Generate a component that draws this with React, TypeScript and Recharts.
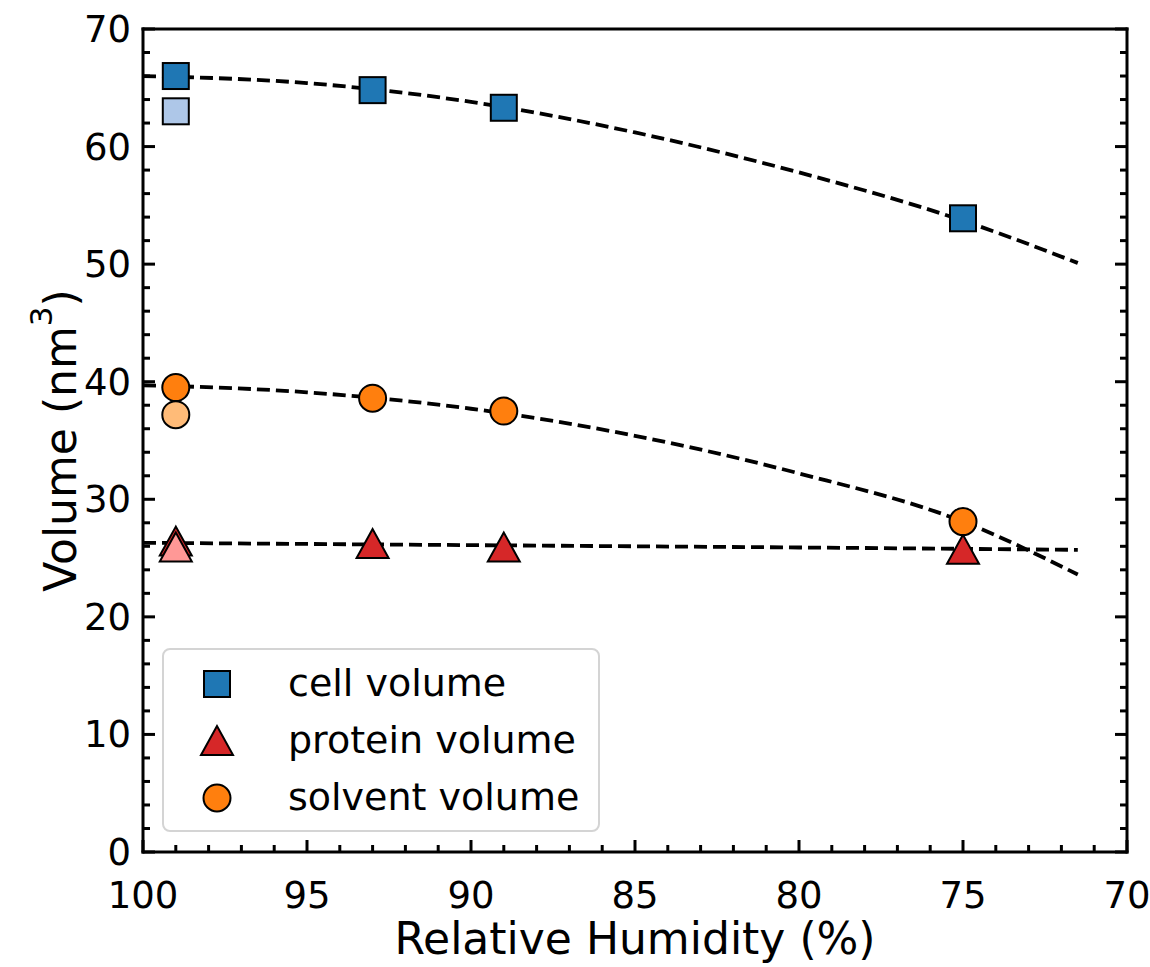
import React from "react";
import { ComposedChart, Line, Scatter, XAxis, YAxis, Legend, Label } from "recharts";

document.body.style.margin = "0";

const FONT = "'DejaVu Sans', sans-serif";

// measured points (relative humidity %, volume nm^3)
const cellPoints = [
  { rh: 99, v: 66.0 },
  { rh: 93, v: 64.8 },
  { rh: 89, v: 63.3 },
  { rh: 75, v: 53.9 },
];
const cellExtra = [{ rh: 99, v: 63.0 }];

const proteinPoints = [
  { rh: 99, v: 26.4 },
  { rh: 93, v: 26.2 },
  { rh: 89, v: 25.9 },
  { rh: 75, v: 25.7 },
];
const proteinExtra = [{ rh: 99, v: 25.9 }];

const solventPoints = [
  { rh: 99, v: 39.5 },
  { rh: 93, v: 38.6 },
  { rh: 89, v: 37.5 },
  { rh: 75, v: 28.1 },
];
const solventExtra = [{ rh: 99, v: 37.2 }];

// dashed fits at a few humidities
const cellFit = [
  { rh: 100, v: 66.0 },
  { rh: 95, v: 65.4 },
  { rh: 90, v: 63.8 },
  { rh: 85, v: 61.2 },
  { rh: 80, v: 57.8 },
  { rh: 75, v: 53.7 },
  { rh: 71.5, v: 50.1 },
];
const solventFit = [
  { rh: 100, v: 39.7 },
  { rh: 95, v: 39.1 },
  { rh: 90, v: 37.7 },
  { rh: 85, v: 35.4 },
  { rh: 80, v: 32.2 },
  { rh: 75, v: 28.1 },
  { rh: 71.5, v: 23.6 },
];
const proteinFit = [
  { rh: 100, v: 26.3 },
  { rh: 90, v: 26.1 },
  { rh: 80, v: 25.9 },
  { rh: 71.5, v: 25.7 },
];

// ticks: every 1 % on x (labels every 5), every 2 on y (labels every 10)
const xTicks = [70, 71, 72, 73, 74, 75, 76, 77, 78, 79, 80, 81, 82, 83, 84, 85, 86, 87, 88, 89, 90, 91, 92, 93, 94, 95, 96, 97, 98, 99, 100];
const yTicks = [0, 2, 4, 6, 8, 10, 12, 14, 16, 18, 20, 22, 24, 26, 28, 30, 32, 34, 36, 38, 40, 42, 44, 46, 48, 50, 52, 54, 56, 58, 60, 62, 64, 66, 68, 70];

const legendItems = [
  { name: "cell volume", marker: "square", color: "#1f77b4" },
  { name: "protein volume", marker: "triangle", color: "#d62728" },
  { name: "solvent volume", marker: "circle", color: "#ff7f0e" },
];

const MAJOR = 12;
const MINOR = 7;
const TICK_FONT = 37;

function BottomTick(props: any) {
  const { x, y, payload } = props;
  const major = payload.value % 5 === 0;
  return (
    <g>
      <line x1={x} x2={x} y1={y} y2={y - (major ? MAJOR : MINOR)} stroke="#000" strokeWidth={3} />
      {major && (
        <text x={x} y={y + 56} textAnchor="middle" fontSize={TICK_FONT} fontFamily={FONT} fill="#000">
          {payload.value}
        </text>
      )}
    </g>
  );
}

function TopTick(props: any) {
  const { x, y, payload } = props;
  const major = payload.value % 5 === 0;
  return <line x1={x} x2={x} y1={y} y2={y + (major ? MAJOR : MINOR)} stroke="#000" strokeWidth={3} />;
}

function LeftTick(props: any) {
  const { x, y, payload } = props;
  const major = payload.value % 10 === 0;
  return (
    <g>
      <line x1={x} x2={x + (major ? MAJOR : MINOR)} y1={y} y2={y} stroke="#000" strokeWidth={3} />
      {major && (
        <text x={x - 12} y={y + 13} textAnchor="end" fontSize={TICK_FONT} fontFamily={FONT} fill="#000">
          {payload.value}
        </text>
      )}
    </g>
  );
}

function RightTick(props: any) {
  const { x, y, payload } = props;
  const major = payload.value % 10 === 0;
  return <line x1={x} x2={x - (major ? MAJOR : MINOR)} y1={y} y2={y} stroke="#000" strokeWidth={3} />;
}

function marker(kind: string, fill: string, cx: number, cy: number) {
  if (kind === "square") {
    return <rect x={cx - 13} y={cy - 13} width={26} height={26} fill={fill} stroke="#000" strokeWidth={2} />;
  }
  if (kind === "triangle") {
    return (
      <polygon
        points={`${cx},${cy - 15} ${cx - 16},${cy + 14} ${cx + 16},${cy + 14}`}
        fill={fill}
        stroke="#000"
        strokeWidth={2}
        strokeLinejoin="miter"
      />
    );
  }
  return <circle cx={cx} cy={cy} r={13.5} fill={fill} stroke="#000" strokeWidth={2} />;
}

const shape = (kind: string, fill: string) => (p: any) => marker(kind, fill, p.cx, p.cy);

function YTitle(props: any) {
  const vb = props.viewBox || { x: 142, y: 29, width: 1, height: 823 };
  const cy = vb.y + vb.height / 2;
  return (
    <text
      transform={`translate(76, ${cy}) rotate(-90)`}
      textAnchor="middle"
      fontSize={44}
      fontFamily={FONT}
      fill="#000"
    >
      Volume (nm
      <tspan dy={-24} fontSize={31}>
        3
      </tspan>
      <tspan dy={24}>)</tspan>
    </text>
  );
}

function LegendBox() {
  return (
    <div
      style={{
        position: "relative",
        width: 438,
        height: 184,
        boxSizing: "border-box",
        border: "2px solid #d4d4d4",
        borderRadius: 8,
        background: "rgba(255,255,255,0.8)",
        fontFamily: FONT,
        fontSize: 38,
        color: "#000",
      }}
    >
      {legendItems.map((item, i) => (
        <div key={item.name} style={{ position: "absolute", left: 0, top: 8 + i * 57, height: 57, width: "100%" }}>
          <svg width={40} height={40} style={{ position: "absolute", left: 33, top: 6 }}>
            {marker(item.marker, item.color, 20, 20)}
          </svg>
          <span style={{ position: "absolute", left: 124, top: 0, lineHeight: "50px", whiteSpace: "nowrap" }}>
            {item.name}
          </span>
        </div>
      ))}
    </div>
  );
}

const AXIS_LINE = { stroke: "#000", strokeWidth: 3, strokeLinecap: "square" as const };

export default function App() {
  return (
    <ComposedChart
      width={1150}
      height={967}
      margin={{ top: 28, right: 22, bottom: 114, left: 142 }}
      style={{ background: "#fff" }}
    >
      <XAxis
        dataKey="rh"
        type="number"
        domain={[70, 100]}
        reversed
        ticks={xTicks}
        interval={0}
        height={1}
        tickSize={0}
        tickMargin={0}
        tickLine={false}
        tick={<BottomTick />}
        axisLine={AXIS_LINE}
        allowDataOverflow
      >
        <Label
          value="Relative Humidity (%)"
          position="bottom"
          offset={70}
          style={{ fontSize: 44, fontFamily: FONT, fill: "#000" }}
        />
      </XAxis>
      <XAxis
        xAxisId="top"
        orientation="top"
        type="number"
        domain={[70, 100]}
        reversed
        ticks={xTicks}
        interval={0}
        height={1}
        tickSize={0}
        tickMargin={0}
        tickLine={false}
        tick={<TopTick />}
        axisLine={AXIS_LINE}
        allowDataOverflow
      />
      <YAxis
        type="number"
        domain={[0, 70]}
        ticks={yTicks}
        interval={0}
        width={1}
        tickSize={0}
        tickMargin={0}
        tickLine={false}
        tick={<LeftTick />}
        axisLine={AXIS_LINE}
        allowDataOverflow
      >
        <Label content={<YTitle />} />
      </YAxis>
      <YAxis
        yAxisId="right"
        orientation="right"
        type="number"
        domain={[0, 70]}
        ticks={yTicks}
        interval={0}
        width={1}
        tickSize={0}
        tickMargin={0}
        tickLine={false}
        tick={<RightTick />}
        axisLine={AXIS_LINE}
        allowDataOverflow
      />
      <Legend
        layout="vertical"
        align="center"
        verticalAlign="middle"
        content={<LegendBox />}
        wrapperStyle={{ left: 162, top: 648, width: 438, height: 184 }}
      />

      <Scatter data={cellPoints} dataKey="v" shape={shape("square", "#1f77b4")} isAnimationActive={false} />
      <Scatter data={cellExtra} dataKey="v" shape={shape("square", "#aec7e8")} isAnimationActive={false} />
      <Scatter data={proteinPoints} dataKey="v" shape={shape("triangle", "#d62728")} isAnimationActive={false} />
      <Scatter data={proteinExtra} dataKey="v" shape={shape("triangle", "#ff9896")} isAnimationActive={false} />
      <Scatter data={solventPoints} dataKey="v" shape={shape("circle", "#ff7f0e")} isAnimationActive={false} />
      <Scatter data={solventExtra} dataKey="v" shape={shape("circle", "#ffbb78")} isAnimationActive={false} />

      <Line data={cellFit} dataKey="v" type="monotone" stroke="#000" strokeWidth={3.8} strokeDasharray="13 6" dot={false} activeDot={false} isAnimationActive={false} />
      <Line data={solventFit} dataKey="v" type="monotone" stroke="#000" strokeWidth={3.8} strokeDasharray="13 6" dot={false} activeDot={false} isAnimationActive={false} />
      <Line data={proteinFit} dataKey="v" type="monotone" stroke="#000" strokeWidth={3.8} strokeDasharray="13 6" dot={false} activeDot={false} isAnimationActive={false} />
    </ComposedChart>
  );
}
